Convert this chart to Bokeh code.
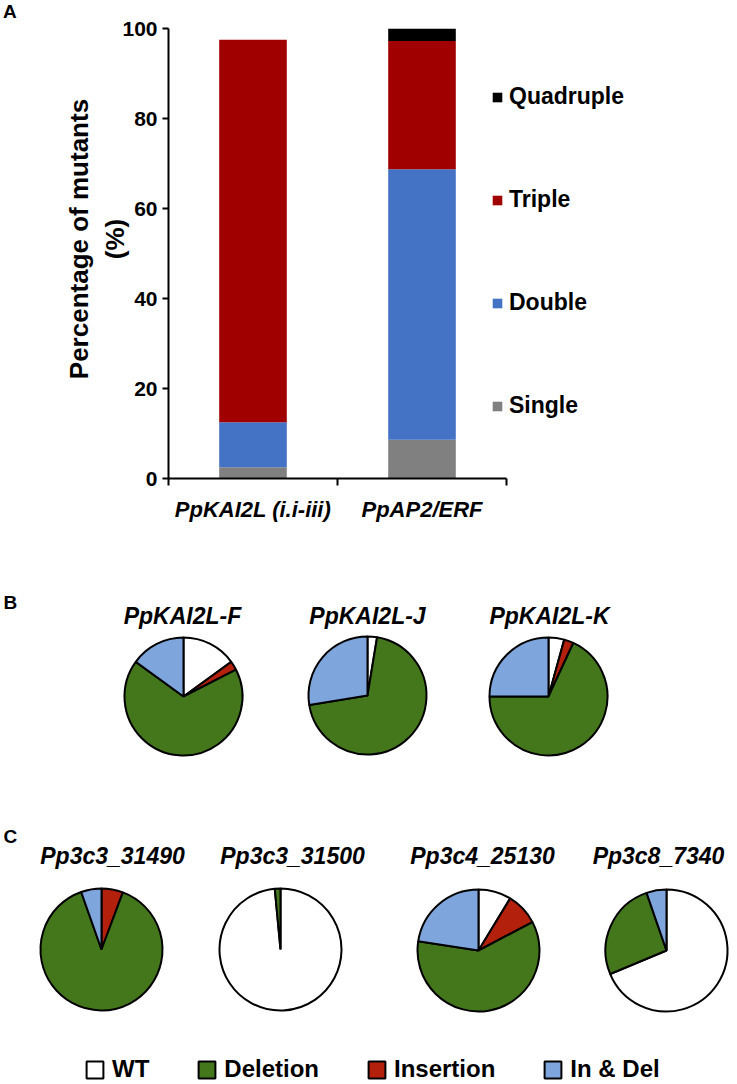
import numpy as np
from bokeh.plotting import figure
from bokeh.models import Range1d, FixedTicker, Legend, LegendItem, Label, ColumnDataSource, Div
from bokeh.embed import file_html
from bokeh.resources import INLINE
from bokeh.core.properties import value

FONT = "Liberation Sans"

# ---------------- data: panel A ----------------
bar_categories = ["PpKAI2L (i.i-iii)", "PpAP2/ERF"]
stack_names = ["Single", "Double", "Triple", "Quadruple"]
single = [2.5, 8.6]
double = [10.0, 60.1]
triple = [85.0, 28.5]
quadruple = [0.0, 2.8]
y_ticks = [0, 20, 40, 60, 80, 100]
bar_colors = ["#808080", "#4472C4", "#A00000", "#000000"]

# ---------------- data: panels B and C ----------------
mut_types = ["WT", "Insertion", "Deletion", "In & Del"]        # clockwise order in pies
legend_order = ["WT", "Deletion", "Insertion", "In & Del"]
mut_colors = {"WT": "#FFFFFF", "Deletion": "#44761C", "Insertion": "#B3200C", "In & Del": "#7EA6DD"}

pie_b_names = ["PpKAI2L-F", "PpKAI2L-J", "PpKAI2L-K"]
wt_b = [15.0, 2.6, 4.3]
ins_b = [2.5, 0.0, 2.6]
del_b = [67.5, 69.8, 68.1]
indel_b = [15.0, 27.6, 25.0]

pie_c_names = ["Pp3c3_31490", "Pp3c3_31500", "Pp3c4_25130", "Pp3c8_7340"]
wt_c = [0.0, 98.5, 8.7, 68.7]
ins_c = [5.7, 0.0, 8.6, 0.0]
del_c = [88.9, 1.5, 60.1, 26.0]
indel_c = [5.4, 0.0, 22.6, 5.3]

# ---------------- panel label "A" (absolutely positioned, takes no space) ----------------
label_a = Div(text=f"<span style='font-family:{FONT};font-size:19px;font-weight:bold;"
                   f"color:black;line-height:19px'>A</span>",
              styles={"position": "absolute", "left": "3px", "top": "2px", "z-index": "10",
                      "margin": "0", "padding": "0"})

# ---------------- panel A: stacked bars ----------------
W = 737
LEFT, FTOP, FBOT, AXIS_RIGHT = 168, 28, 478, 506
A_H = 526
n_cat = len(bar_categories)
x_end = n_cat * (W - LEFT) / (AXIS_RIGHT - LEFT)

p = figure(width=W, height=A_H, output_backend="svg", toolbar_location=None,
           x_range=Range1d(0, x_end), y_range=Range1d(0, 100),
           min_border_left=LEFT, min_border_right=0, min_border_top=FTOP,
           min_border_bottom=A_H - FBOT)
p.outline_line_color = None
p.xgrid.visible = False
p.ygrid.visible = False

src = ColumnDataSource(dict(x=[i + 0.5 for i in range(n_cat)],
                            Single=single, Double=double, Triple=triple, Quadruple=quadruple))
rends = p.vbar_stack(stack_names, x="x", width=0.4, fill_color=bar_colors, line_color=None, source=src)

xa = p.xaxis[0]
xa.bounds = (0, n_cat)
xa.ticker = FixedTicker(ticks=[i + 0.5 for i in range(n_cat)],
                        minor_ticks=list(range(n_cat + 1)))
xa.major_label_overrides = {i + 0.5: c for i, c in enumerate(bar_categories)}
xa.major_tick_out = 0
xa.major_tick_in = 0
xa.minor_tick_out = 7
xa.minor_tick_in = 0
xa.minor_tick_line_width = 2
xa.minor_tick_line_color = "black"
xa.axis_line_width = 2
xa.axis_line_color = "black"
xa.major_label_standoff = 11
xa.major_label_text_font = FONT
xa.major_label_text_font_size = "22px"
xa.major_label_text_font_style = "bold italic"
xa.major_label_text_color = "black"

ya = p.yaxis[0]
ya.ticker = FixedTicker(ticks=y_ticks)
ya.major_tick_out = 6
ya.major_tick_in = 0
ya.major_tick_line_width = 2
ya.major_tick_line_color = "black"
ya.axis_line_width = 2
ya.axis_line_color = "black"
ya.major_label_standoff = 5
ya.major_label_text_font = FONT
ya.major_label_text_font_size = "21px"
ya.major_label_text_font_style = "bold"
ya.major_label_text_color = "black"
pad = "\u00a0" * 4
ya.axis_label = pad + "Percentage of mutants\n" + pad + "(%)"
ya.axis_label_standoff = -11
ya.axis_label_text_font = FONT
ya.axis_label_text_font_size = "26px"
ya.axis_label_text_font_style = "bold"
ya.axis_label_text_color = "black"

items = [LegendItem(label=n, renderers=[r]) for n, r in zip(stack_names, rends)][::-1]
leg = Legend(items=items, location=(323, 59), orientation="vertical",
             glyph_width=12, glyph_height=12, label_height=26, spacing=76,
             label_standoff=6, padding=0, margin=0,
             border_line_alpha=0, background_fill_alpha=0,
             label_text_font=FONT, label_text_font_size="23px", label_text_font_style="bold",
             label_text_color="black")
p.add_layout(leg, "center")

# ---------------- panels B and C: pies ----------------
TOP, BOT = A_H, 1084
p2 = figure(width=W, height=BOT - TOP, output_backend="svg", toolbar_location=None,
            x_range=Range1d(0, W), y_range=Range1d(-BOT, -TOP),
            x_axis_location=None, y_axis_location=None, min_border=0)
p2.outline_line_color = None
p2.xgrid.visible = False
p2.ygrid.visible = False

pie_names = pie_b_names + pie_c_names
pie_vals = {"WT": wt_b + wt_c, "Insertion": ins_b + ins_c,
            "Deletion": del_b + del_c, "In & Del": indel_b + indel_c}
# layout (page pixels)
pie_cx = [183, 367, 548, 101, 280, 478, 666]
pie_cy = [696, 695, 696, 949, 949, 950, 950]
pie_r = [59, 59, 59, 61, 61, 61, 61]
title_x = [182, 367, 549, 112, 292, 482, 658]
title_y = [615, 615, 615, 855, 855, 855, 855]

totals = np.sum([np.array(pie_vals[t], float) for t in mut_types], axis=0)
cum = np.zeros(len(pie_names))
wedge_r = {}
for t in mut_types:
    frac = np.array(pie_vals[t], float) / totals
    s, e = cum.copy(), cum + frac
    m = frac > 0
    d = dict(x=np.array(pie_cx)[m], y=-np.array(pie_cy)[m], r=np.array(pie_r)[m],
             start=(np.pi / 2 - 2 * np.pi * e)[m], end=(np.pi / 2 - 2 * np.pi * s)[m])
    wedge_r[t] = p2.wedge(x="x", y="y", radius="r", start_angle="start", end_angle="end",
                          fill_color=mut_colors[t], line_color="black", line_width=2,
                          source=ColumnDataSource(d))
    cum = e

p2.text(x=title_x, y=[-v for v in title_y], text=pie_names, text_align="center",
        text_baseline="middle", text_font=value(FONT), text_font_size="23px",
        text_font_style="bold italic", text_color="black")

for txt, tx, ty in [("B", 3, 591), ("C", 3, 825)]:
    p2.add_layout(Label(x=tx, y=-ty, text=txt, text_align="left", text_baseline="top",
                        text_font=FONT, text_font_size="19px", text_font_style="bold",
                        text_color="black"))

leg2 = Legend(items=[LegendItem(label=t, renderers=[wedge_r[t]]) for t in legend_order],
              location=(84, 1), orientation="horizontal",
              glyph_width=21, glyph_height=21, label_height=26, spacing=47,
              label_standoff=7, padding=0, margin=0,
              border_line_alpha=0, background_fill_alpha=0,
              label_text_font=FONT, label_text_font_size="24px", label_text_font_style="bold",
              label_text_color="black")
p2.add_layout(leg2, "center")

open("out.html", "w").write(file_html([label_a, p, p2], INLINE))
